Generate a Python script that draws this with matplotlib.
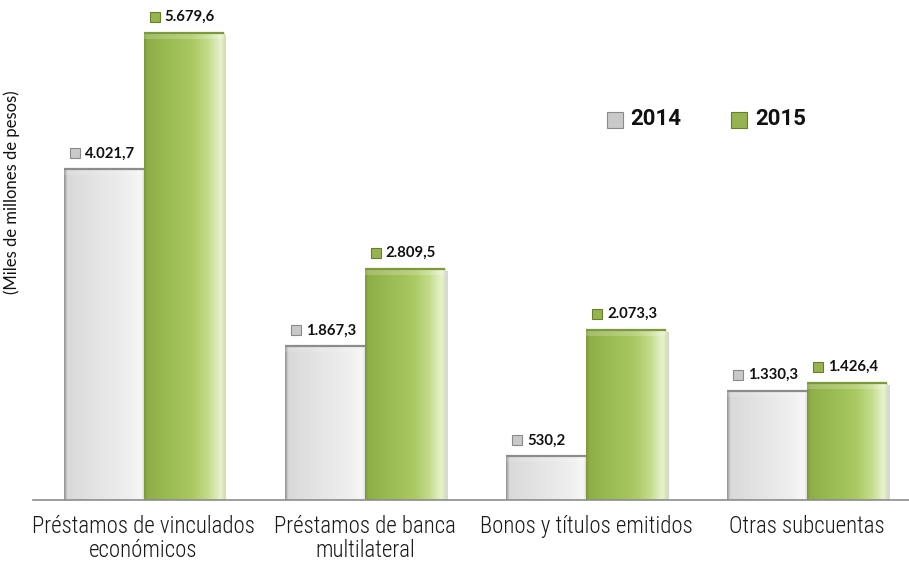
import numpy as np
import matplotlib
matplotlib.use("Agg")
import matplotlib.pyplot as plt
from matplotlib import font_manager
from matplotlib.colors import LinearSegmentedColormap
from matplotlib.transforms import offset_copy

categories = ["Préstamos de vinculados\neconómicos", "Préstamos de banca\nmultilateral",
              "Bonos y títulos emitidos", "Otras subcuentas"]
series_names = ["2014", "2015"]
values_2014 = [4021.7, 1867.3, 530.2, 1330.3]
values_2015 = [5679.6, 2809.5, 2073.3, 1426.4]
labels_2014 = ["4.021,7", "1.867,3", "530,2", "1.330,3"]
labels_2015 = ["5.679,6", "2.809,5", "2.073,3", "1.426,4"]
ylabel = "(Miles de millones de pesos)"


def pick(fams):
    for f in fams:
        try:
            font_manager.findfont(font_manager.FontProperties(family=f), fallback_to_default=False)
            return f
        except Exception:
            pass
    return "DejaVu Sans"

narrow = pick(["Liberation Sans Narrow", "Roboto Condensed", "Open Sans Condensed", "DejaVu Sans"])
body = pick(["Lato", "Open Sans", "DejaVu Sans"])
legfont = pick(["Roboto", "Lato", "DejaVu Sans"])

W, H = 909, 565
fig = plt.figure(figsize=(W / 100, H / 100), dpi=100)
ax = fig.add_axes([33 / W, (H - 500) / H, (909 - 33) / W, (500 - 8) / H])

x = np.arange(len(categories))
bw = 0.362
off = bw / 2

green_cmap = LinearSegmentedColormap.from_list(
    "g", [(0.0, "#7a9838"), (0.04, "#8fae48"), (0.35, "#9dbd55"), (0.6, "#aac863"),
          (0.8, "#c4dc8c"), (0.95, "#e8f2cf"), (1.0, "#d2e0b0")])
gray_cmap = LinearSegmentedColormap.from_list(
    "k", [(0.0, "#8e8e8e"), (0.04, "#d9d9d9"), (0.4, "#e4e4e4"), (0.8, "#efefef"),
          (0.96, "#f7f7f7"), (1.0, "#d0d0d0")])

grad = np.linspace(0, 1, 256).reshape(1, -1)

px_per_unit = (500 - 33) / 5679.6

def draw_series(vals, pos, cmap, topcol, shadow, band_alpha):
    bars = ax.bar(pos, vals, bw, color="none", edgecolor="none", zorder=2)
    for b in bars:
        x0, w, h = b.get_x(), b.get_width(), b.get_height()
        ax.bar(x0 + w / 2 + 0.012, h, w, bottom=-25, color=shadow, alpha=0.5,
               edgecolor="none", zorder=1)
        im = ax.imshow(grad, cmap=cmap, extent=[x0, x0 + w, 0, h], aspect="auto",
                       zorder=2, interpolation="bicubic")
        im.set_clip_path(b)
        band = 6 / px_per_unit
        ax.bar(x0 + w / 2, band, w, bottom=h - band, color="white", alpha=band_alpha,
               edgecolor="none", zorder=3)
        ax.plot([x0, x0 + w], [h, h], color=topcol, lw=1.6, zorder=4, solid_capstyle="butt")
    return bars

draw_series(values_2014, x - off, gray_cmap, "#8c8c8c", "#b0b0b0", 0.12)
draw_series(values_2015, x + off, green_cmap, "#7c9a3c", "#b0b0b0", 0.2)

ax.set_aspect("auto")
ax.set_xlim(-0.5, 3.46)
ax.set_ylim(0, 5679.6 * 492 / 467)

sq_cols = {"2014": ("#c9c9c9", "#8a8a8a"), "2015": ("#97b350", "#667f2c")}

def value_labels(vals, labs, pos, key):
    fc, ec = sq_cols[key]
    for xi, v, lab in zip(pos, vals, labs):
        tsq = offset_copy(ax.transData, fig=fig, x=-29 * 72 / 100, y=16 * 72 / 100, units="points")
        ax.plot([xi], [v], marker="s", ms=6.5, mfc=fc, mec=ec, mew=0.8, transform=tsq,
                zorder=5, clip_on=False)
        ttx = offset_copy(ax.transData, fig=fig, x=-19 * 72 / 100, y=16 * 72 / 100, units="points")
        ax.text(xi, v, lab, transform=ttx, ha="left", va="center", fontsize=10.7,
                fontweight="bold", family=body, color="#111111", zorder=5)

value_labels(values_2014, labels_2014, x - off, "2014")
value_labels(values_2015, labels_2015, x + off, "2015")

for s in ["top", "right", "left"]:
    ax.spines[s].set_visible(False)
ax.spines["bottom"].set_color("#8c8c8c")
ax.spines["bottom"].set_linewidth(1.2)
ax.set_yticks([])
ax.set_xticks(x)
ax.set_xticklabels(categories, fontsize=16.5, family=narrow, fontweight="light",
                   color="#1a1a1a", linespacing=1.05)
ax.tick_params(axis="x", length=0, pad=11)

fig.text(12 / W, 1 - 192 / H, ylabel, rotation=90, ha="center", va="center",
         fontsize=12, family=body, color="#111111")

for name, sx, tx in [("2014", 614.5, 630), ("2015", 739, 755)]:
    fc, ec = sq_cols[name]
    fig.lines.append(plt.Line2D([sx / W], [1 - 120 / H], marker="s", ms=11, mfc=fc, mec=ec,
                                mew=0.8, transform=fig.transFigure, figure=fig))
    fig.text(tx / W, 1 - 119 / H, name, ha="left", va="center", fontsize=16,
             fontweight="bold", family=legfont, color="#111111")

fig.savefig("out.png", dpi=100, facecolor="white")
